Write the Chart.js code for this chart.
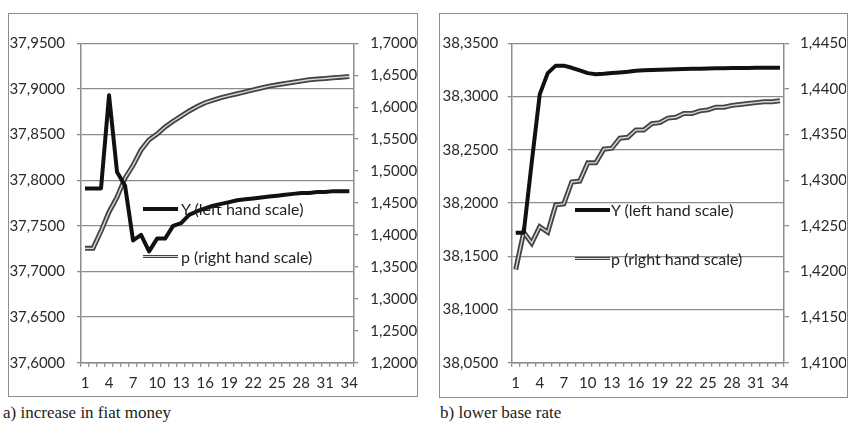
<!DOCTYPE html>
<html>
<head>
<meta charset="utf-8">
<script src="https://cdn.jsdelivr.net/npm/chart.js@4.4.0/dist/chart.umd.min.js"></script>
<style>
    body { margin: 0; background: #fff; width: 848px; height: 428px; position: relative; overflow: hidden; font-family: Lato, sans-serif; }
    .box { position: absolute; border: 1.5px solid #8c8c8c; box-sizing: border-box; }
    #boxA { left: 8px; top: 12.5px; width: 410px; height: 384px; }
    #boxB { left: 439.3px; top: 12.5px; width: 409px; height: 385px; }
    canvas { position: absolute; }
    #chartA { left: 9px; top: 13px; }
    #chartB { left: 441px; top: 13px; }
    .leg { position: absolute; font-size: 16px; color: #1e1e1e; line-height: 18px; white-space: nowrap; }
    .sw { position: absolute; width: 35px; }
    .swY { height: 4px; background: #111; }
    .swP { height: 1.4px; background: #d8d8d8; border-top: 1.8px solid #444; border-bottom: 1.8px solid #444; }
    .cap { position: absolute; top: 403px; font-family: "Liberation Serif", serif; font-size: 17px; color: #222; }
</style>
</head>
<body>
<div class="box" id="boxA"></div>
<div class="box" id="boxB"></div>
<canvas id="chartA" width="408" height="383"></canvas>
<canvas id="chartB" width="405" height="383"></canvas>

<div class="sw swY" style="left:143px; top:207.3px"></div>
<div class="leg" style="left:181px; top:200px">Y (left hand scale)</div>
<div class="sw swP" style="left:143px; top:254.8px"></div>
<div class="leg" style="left:181px; top:248px">p (right hand scale)</div>

<div class="sw swY" style="left:575px; top:208px"></div>
<div class="leg" style="left:611px; top:201px">Y (left hand scale)</div>
<div class="sw swP" style="left:575px; top:256.5px"></div>
<div class="leg" style="left:611px; top:250px">p (right hand scale)</div>

<div class="cap" style="left:3px">a) increase in fiat money</div>
<div class="cap" style="left:440px">b) lower base rate</div>

<script>
const periods = ['1', '2', '3', '4', '5', '6', '7', '8', '9', '10', '11', '12', '13', '14', '15', '16', '17',
    '18', '19', '20', '21', '22', '23', '24', '25', '26', '27', '28', '29', '30', '31', '32', '33', '34'];

// a) increase in fiat money
const yFiat = [37.791, 37.791, 37.791, 37.893, 37.809, 37.794, 37.734, 37.740, 37.722, 37.736, 37.736, 37.750,
    37.753, 37.762, 37.766, 37.769, 37.772, 37.774, 37.776, 37.778, 37.779, 37.780, 37.781, 37.782, 37.783,
    37.784, 37.785, 37.786, 37.786, 37.787, 37.787, 37.788, 37.788, 37.788];
const pFiat = [1.379, 1.379, 1.406, 1.436, 1.459, 1.489, 1.509, 1.533, 1.549, 1.558, 1.569, 1.578, 1.586,
    1.594, 1.601, 1.607, 1.611, 1.615, 1.618, 1.621, 1.624, 1.627, 1.630, 1.633, 1.635, 1.637, 1.639, 1.641,
    1.643, 1.644, 1.645, 1.646, 1.647, 1.648];

// b) lower base rate
const yRate = [38.172, 38.172, 38.238, 38.302, 38.322, 38.329, 38.329, 38.327, 38.3245, 38.322, 38.321, 38.3214,
    38.322, 38.3226, 38.3233, 38.3243, 38.3246, 38.3249, 38.3252, 38.3255, 38.3257, 38.3259, 38.326, 38.3262,
    38.3264, 38.3265, 38.3266, 38.3267, 38.3268, 38.3269, 38.327, 38.327, 38.3271, 38.3271];
const pRate = [1.4202, 1.4243, 1.4231, 1.4249, 1.4243, 1.4273, 1.4274, 1.4298, 1.4299, 1.4319, 1.4319, 1.4334,
    1.4335, 1.4346, 1.4347, 1.4355, 1.4355, 1.4362, 1.4363, 1.4368, 1.4369, 1.4373, 1.4373, 1.4376, 1.4377,
    1.4380, 1.4380, 1.4382, 1.4383, 1.4384, 1.4385, 1.4386, 1.4386, 1.4387];

// tick values of the axes
const leftTicksA = [37.60, 37.65, 37.70, 37.75, 37.80, 37.85, 37.90, 37.95];
const rightTicksA = [1.20, 1.25, 1.30, 1.35, 1.40, 1.45, 1.50, 1.55, 1.60, 1.65, 1.70];
const leftTicksB = [38.05, 38.10, 38.15, 38.20, 38.25, 38.30, 38.35];
const rightTicksB = [1.410, 1.415, 1.420, 1.425, 1.430, 1.435, 1.440, 1.445];

const gridColor = '#8c8c8c';
const textColor = '#2a2a2a';
const fmt = v => Number(v).toFixed(4).replace('.', ',');

function makeChart(id, y, p, leftTicks, rightTicks, dims) {
    const ctx = document.getElementById(id).getContext('2d');
    return new Chart(ctx, {
        type: 'line',
        data: {
            labels: periods,
            datasets: [
                { data: y, yAxisID: 'y', borderColor: '#111', borderWidth: 4, borderJoinStyle: 'round' },
                { data: p, yAxisID: 'y1', borderColor: '#d8d8d8', borderWidth: 1.4 },
                { data: p, yAxisID: 'y1', borderColor: '#444', borderWidth: 5 }
            ]
        },
        options: {
            responsive: false,
            animation: false,
            events: [],
            elements: { point: { radius: 0 }, line: { tension: 0 } },
            layout: { padding: { top: 30.3, left: 0, right: 0, bottom: 0 } },
            plugins: { legend: { display: false }, tooltip: { enabled: false } },
            scales: {
                x: {
                    offset: true,
                    afterFit: s => { s.height = 33.3; },
                    grid: { offset: true, drawOnChartArea: false, tickLength: 4, color: gridColor, lineWidth: 1.3 },
                    border: { color: gridColor, width: 1.5 },
                    ticks: {
                        autoSkip: false, maxRotation: 0, padding: 7, color: textColor,
                        font: { family: 'Lato', size: 15 },
                        callback: (v, i) => (i % 3 === 0 ? periods[i] : '')
                    }
                },
                y: {
                    position: 'left',
                    min: leftTicks[0], max: leftTicks[leftTicks.length - 1],
                    afterBuildTicks: s => { s.ticks = leftTicks.map(v => ({ value: v })); },
                    afterFit: s => { s.width = dims.left; },
                    grid: { color: gridColor, lineWidth: 1.3, tickLength: 4 },
                    border: { color: gridColor, width: 1.5 },
                    ticks: { padding: dims.lpad, color: textColor, font: { family: 'Lato', size: 15 }, callback: fmt }
                },
                y1: {
                    position: 'right',
                    min: rightTicks[0], max: rightTicks[rightTicks.length - 1],
                    afterBuildTicks: s => { s.ticks = rightTicks.map(v => ({ value: v })); },
                    afterFit: s => { s.width = dims.right; },
                    grid: { drawOnChartArea: false, color: gridColor, lineWidth: 1.3, tickLength: 5 },
                    border: { color: gridColor, width: 1.5 },
                    ticks: { padding: dims.rpad, color: textColor, font: { family: 'Lato', size: 15 }, callback: fmt }
                }
            }
        }
    });
}

makeChart('chartA', yFiat, pFiat, leftTicksA, rightTicksA, { left: 72, right: 63.7, lpad: 12, rpad: 12 });
makeChart('chartB', yRate, pRate, leftTicksB, rightTicksB, { left: 70.7, right: 62, lpad: 9.5, rpad: 11 });
</script>
</body>
</html>
